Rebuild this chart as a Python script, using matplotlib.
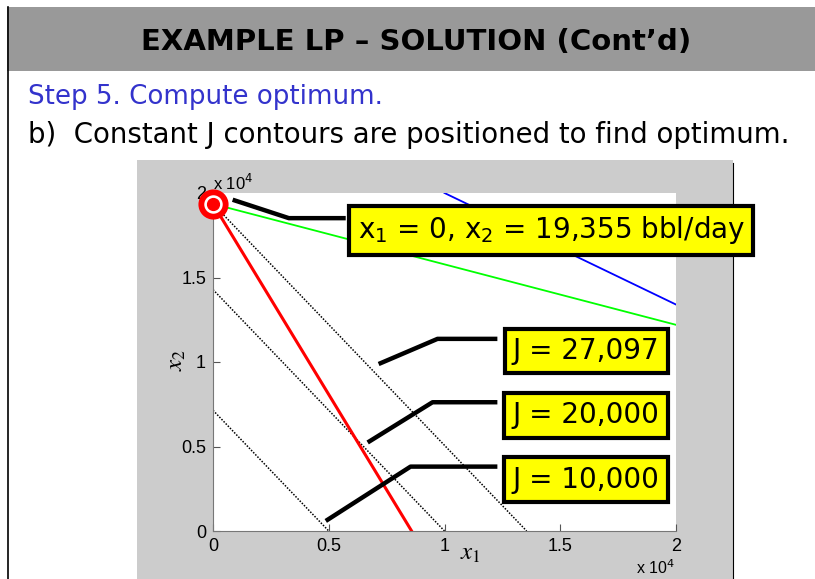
import numpy as np
import matplotlib.pyplot as plt
from matplotlib.patches import Rectangle
from matplotlib.lines import Line2D

# objective J = c1*x1 + c2*x2
c1 = 2.0
c2 = 1.4
J_levels = [10000, 20000, 27097]

# constraint lines (end points)
red_x = [0, 8580]
red_y = [19355, 0]
green_x = [0, 20000]
green_y = [19355, 12200]
blue_x = [10000, 20000]
blue_y = [20000, 13400]

opt_x1 = 0
opt_x2 = 19355

tick_vals = [0, 5000, 10000, 15000, 20000]
tick_labels = ["0", "0.5", "1", "1.5", "2"]

# label boxes and their leader lines
box_text = ["J = 27,097", "J = 20,000", "J = 10,000"]
box_xy = [(16121, 10655), (16121, 6845), (16121, 3036)]
leaders = [
    ([7155, 9698, 12284], [9881, 11369, 11369]),
    ([6681, 9483, 12284], [5238, 7619, 7619]),
    ([4871, 8534, 12284], [595, 3810, 3810]),
]
opt_leader = ([849, 3276, 5733], [19601, 18512, 18512])

comic = "DejaVu Sans"

fig = plt.figure(figsize=(8.15, 5.79), dpi=100)
W, H = 815, 579

def fx(px):
    return px / W

def fy(py):
    return 1 - py / H

# slide decoration
fig.patches.append(Rectangle((fx(7), fy(71)), fx(808), 64 / H, transform=fig.transFigure,
                             fc="#999999", ec="none", zorder=-10))
fig.patches.append(Rectangle((fx(137), 0), fx(596), fy(160), transform=fig.transFigure,
                             fc="#cccccc", ec="none", zorder=-10))
fig.lines.append(Line2D([fx(7.5), fx(7.5)], [0, fy(7)], transform=fig.transFigure,
                        color="black", lw=1.2, zorder=-5))
fig.lines.append(Line2D([fx(733), fx(733)], [0, fy(163)], transform=fig.transFigure,
                        color="black", lw=0.8, zorder=-5))

fig.text(fx(416), fy(42), "EXAMPLE LP \u2013 SOLUTION (Cont\u2019d)", ha="center", va="center",
         fontsize=21, fontweight="bold", family=comic)
fig.text(fx(28), fy(97), "Step 5. Compute optimum.", ha="left", va="center",
         fontsize=18.8, color="#3333cc", family=comic)
fig.text(fx(28), fy(135), "b)  Constant J contours are positioned to find optimum.", ha="left",
         va="center", fontsize=19.9, color="black", family=comic)

ax = fig.add_axes([fx(213), fy(531), fx(676 - 213), (531 - 193) / H])
ax.set_xlim(0, 20000)
ax.set_ylim(0, 20000)

for J in J_levels:
    xs = np.array([0, J / c1])
    ys = (J - c1 * xs) / c2
    ax.plot(xs, ys, color="black", ls=(0, (1, 1)), lw=1.1)

ax.plot(green_x, green_y, color="#00ff00", lw=1.3)
ax.plot(blue_x, blue_y, color="#0000ff", lw=1.3)
ax.plot(red_x, red_y, color="red", lw=2.2)

ax.plot(opt_x1, opt_x2, "o", ms=17.5, mfc="white", mec="red", mew=4.2, clip_on=False, zorder=10)
ax.plot(opt_x1, opt_x2, "o", ms=8.5, mfc="red", mec="red", clip_on=False, zorder=11)

for (lx, ly) in leaders + [opt_leader]:
    ax.plot(lx, ly, color="black", lw=3.2, clip_on=False, zorder=12, solid_capstyle="butt")

for t, (bx, by) in zip(box_text, box_xy):
    ax.text(bx, by, t, ha="center", va="center", fontsize=20, family=comic, zorder=13,
            bbox=dict(boxstyle="square,pad=0.3", fc="yellow", ec="black", lw=3))
ax.text(14612, 17798, "x$_1$ = 0, x$_2$ = 19,355 bbl/day", ha="center", va="center",
        fontsize=20, family=comic, zorder=13, clip_on=False,
        bbox=dict(boxstyle="square,pad=0.3", fc="yellow", ec="black", lw=3))

ax.set_xticks(tick_vals)
ax.set_xticklabels(tick_labels)
ax.set_yticks(tick_vals)
ax.set_yticklabels(tick_labels)
ax.tick_params(direction="in", length=5, color="#555555", labelsize=13, pad=5)
for lab in ax.get_xticklabels() + ax.get_yticklabels():
    lab.set_family("Liberation Sans")
ax.spines["top"].set_visible(False)
ax.spines["right"].set_visible(False)
ax.spines["left"].set_color("#777777")
ax.spines["bottom"].set_color("#777777")

fig.text(fx(470), fy(553), "$x_1$", fontsize=18, ha="center", va="center",
         math_fontfamily="stix")
fig.text(fx(176), fy(360), "$x_2$", fontsize=18, rotation=90, ha="center", va="center",
         math_fontfamily="stix")
fig.text(fx(213), fy(183), "x 10$^4$", fontsize=12, family="Liberation Sans", ha="left", va="center")
fig.text(fx(636), fy(577), "x 10$^4$", fontsize=11.5, family="Liberation Sans", ha="left", va="bottom")

fig.savefig("out.png", dpi=100)
